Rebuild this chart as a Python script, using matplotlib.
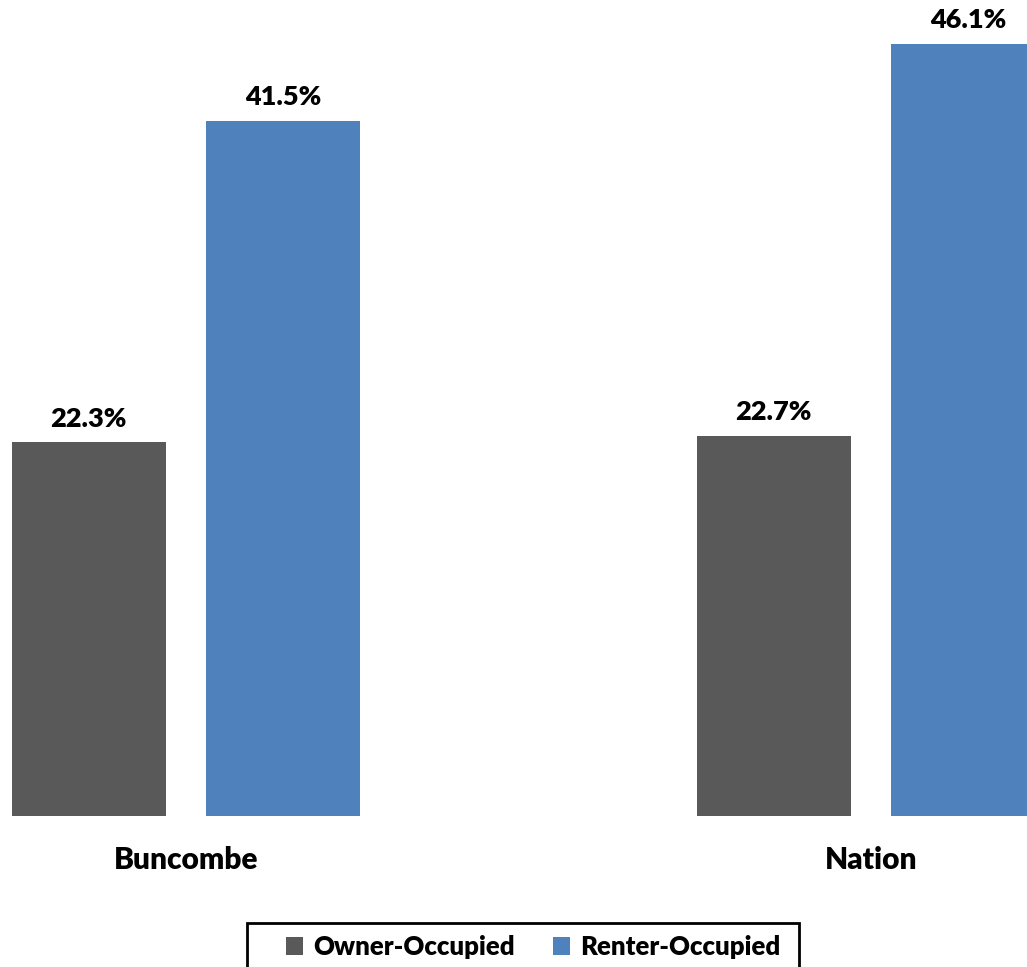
import matplotlib
matplotlib.use("Agg")
import matplotlib.pyplot as plt
from matplotlib.patches import Rectangle
import numpy as np

categories = ["Buncombe", "Nation"]
series_names = ["Owner-Occupied", "Renter-Occupied"]
owner = [22.3, 22.7]
renter = [41.5, 46.1]
colors = ["#595959", "#4F81BD"]

plt.rcParams['font.family'] = ['Lato', 'DejaVu Sans']

W, H = 1027, 967
fig = plt.figure(figsize=(W / 100, H / 100), dpi=100)
bottom_px = 816
ax = fig.add_axes([0, (H - bottom_px) / H, 1, bottom_px / H])

x = np.arange(len(categories))
width = 0.2248
offset = 0.142
b1 = ax.bar(x - offset, owner, width, color=colors[0], label=series_names[0])
b2 = ax.bar(x + offset, renter, width, color=colors[1], label=series_names[1])

for bars, vals in ((b1, owner), (b2, renter)):
    for rect, v in zip(bars, vals):
        ax.annotate(f"{v:.1f}%", (rect.get_x() + rect.get_width() / 2, rect.get_height()),
                    xytext=(0, 11.5), textcoords="offset points", ha="center", va="baseline",
                    fontsize=19.5, fontweight="heavy", color="black", annotation_clip=False)

ax.set_xlim(-186 / 685, 841 / 685)
ax.set_ylim(0, bottom_px / 16.75)
ax.set_xticks(x)
ax.set_xticklabels(categories, fontsize=21.5, fontweight="heavy")
for lab in ax.get_xticklabels():
    lab.set_va("center")
ax.tick_params(axis="x", length=0, pad=31.5)
ax.set_yticks([])
for s in ax.spines.values():
    s.set_visible(False)

leg = fig.legend(handles=[b1, b2], labels=series_names, loc="center",
                 bbox_to_anchor=(533 / W, 1 - 947 / H), ncol=2, frameon=False,
                 prop={"weight": "heavy", "size": 18.5},
                 handlelength=0.65, handleheight=0.65, handletextpad=0.4,
                 columnspacing=1.5, borderpad=0, borderaxespad=0)

frame = Rectangle((247 / W, 1 - 975 / H), 552 / W, 52 / H, transform=fig.transFigure,
                  fill=False, edgecolor="black", linewidth=2, clip_on=False)
fig.add_artist(frame)

fig.savefig("out.png", dpi=100)
